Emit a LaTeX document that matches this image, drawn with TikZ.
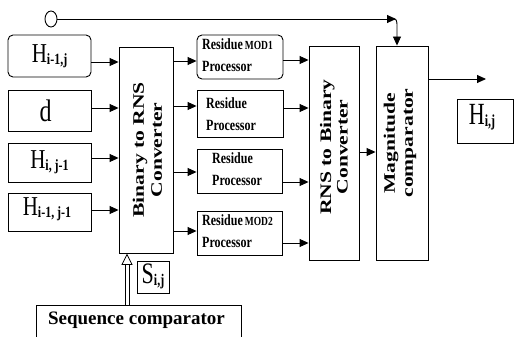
\documentclass[tikz,border=0pt]{standalone}
\usepackage{fontspec}
\setmainfont{Liberation Serif}
\usetikzlibrary{arrows.meta,shapes.geometric}
\newcommand\tall[2][1.3]{\scalebox{1}[#1]{#2}}
\newcommand\wide[2][1.35]{\scalebox{#1}[1]{#2}}
\newcommand\Hlab[1]{\tall{\fontsize{21}{21}\selectfont H\raisebox{-1.5pt}{\fontsize{12}{12}\selectfont\bfseries #1}}}
\begin{document}
\begin{tikzpicture}[x=1pt,y=-1pt,
  box/.style={draw=black, line width=0.9pt, fill=white, inner sep=0pt},
  rbox/.style={box, rounded corners=5pt},
  arr/.style={line width=0.9pt, -{Triangle[length=9pt,width=8pt]}},
  restext/.style={anchor=north west, inner sep=0pt, align=left, font=\bfseries\fontsize{12}{22}\selectfont},
  rottext/.style={rotate=90, inner sep=0pt, align=center, font=\bfseries\fontsize{16}{18}\selectfont}]
\useasboundingbox (0,0) rectangle (515,337);
\clip (0,0) rectangle (515,337);
% input boxes
\node[rbox, minimum width=83pt, minimum height=42pt] (hA) at (49.5,56) {\Hlab{i-1,j}};
\node[box, minimum width=83pt, minimum height=41pt] (hd) at (49.5,110.5) {};
\node[inner sep=0pt] (hdt) at (45.5,111) {\tall{\fontsize{24}{24}\selectfont d}};
\node[box, minimum width=83pt, minimum height=39pt] (hB) at (49.5,162.5) {\Hlab{i, j-1}};
\node[box, minimum width=83pt, minimum height=38pt] (hC) at (49.5,212) {};
\node[inner sep=0pt] (hCt) at (47,209) {\Hlab{i-1, j-1}};
% converters
\node[box, minimum width=54pt, minimum height=206pt] (btr) at (146,150) {};
\node[rottext] (btrt) at (147.5,150) {\wide{Binary to RNS}\\\wide{Converter}};
\node[box, minimum width=50pt, minimum height=214pt] (rtb) at (334,153) {};
\node[rottext, font=\bfseries\fontsize{16}{16.5}\selectfont] (rtbt) at (334,147) {\wide{RNS to Binary}\\\wide{Converter}};
\node[box, minimum width=52pt, minimum height=214pt] (mag) at (402,153) {};
\node[rottext] (magt) at (400,143) {\wide{Magnitude}\\\wide{comparator}};
% residue processors
\node[rbox, minimum width=86pt, minimum height=44pt] (r1) at (240,57) {};
\node[box, minimum width=86pt, minimum height=47pt] (r2) at (240,113.5) {};
\node[box, minimum width=85pt, minimum height=44pt] (r3) at (239.5,171) {};
\node[box, minimum width=85pt, minimum height=44pt] (r4) at (239.5,233) {};
\node[restext] (r1t) at (202,38) {\tall{Residue\,{\fontsize{9.5}{10}\selectfont MOD1}}\\\tall{Processor}};
\node[restext] (r2t) at (206,97) {\tall{Residue}\\\tall{Processor}};
\node[restext] (r3t) at (212,152) {\tall{Residue}\\\tall{Processor}};
\node[restext] (r4t) at (202,214) {\tall{Residue\,{\fontsize{9.5}{10}\selectfont MOD2}}\\\tall{Processor}};
% output
\node[box, minimum width=56pt, minimum height=44pt] (hout) at (485,121) {};
\node[inner sep=0pt] (houtt) at (482,117) {\tall[1.4]{\fontsize{22}{22}\selectfont H\raisebox{-1.5pt}{\fontsize{12}{12}\selectfont\bfseries i,j}}};
% sequence comparator and S
\node[box, minimum width=205pt, minimum height=42pt] (seq) at (138.5,326) {};
\node[inner sep=0pt, font=\bfseries\fontsize{19}{19}\selectfont] (seqt) at (136.5,320) {Sequence comparator};
\node[box, minimum width=32pt, minimum height=32pt] (sbox) at (153,277) {};
\node[inner sep=0pt] (sboxt) at (153,276) {\tall[1.35]{\fontsize{22}{22}\selectfont S\raisebox{-1.5pt}{\fontsize{12}{12}\selectfont\bfseries i,j}}};
% top line
\node[draw, ellipse, line width=0.9pt, minimum width=12pt, minimum height=16pt, inner sep=0pt, fill=white] (circ) at (51,19) {};
\coordinate (tc) at (391,19);
\coordinate (tcend) at (396,19);
\draw[arr] (circ.east) -- (tcend);
\draw[arr] (tc) .. controls (397,19) .. (397,28) -- ([xshift=-5pt]mag.north);
% arrows into binary-to-RNS
\draw[arr] ([yshift=-6pt]hA.east) -- ([yshift=-6pt]hA.east -| btr.west);
\draw[arr] ([yshift=2.5pt]hd.east) -- ([yshift=2.5pt]hd.east -| btr.west);
\draw[arr] ([yshift=4.5pt]hB.east) -- ([yshift=4.5pt]hB.east -| btr.west);
\draw[arr] ([yshift=2pt]hC.east) -- ([yshift=2pt]hC.east -| btr.west);
% to residue processors
\draw[arr] ([yshift=-4pt]r1.west -| btr.east) -- ([yshift=-4pt]r1.west);
\draw[arr] ([yshift=7.5pt]r2.west -| btr.east) -- ([yshift=7.5pt]r2.west);
\draw[arr] ([yshift=-1pt]r3.west -| btr.east) -- ([yshift=-1pt]r3.west);
\draw[arr] ([yshift=2pt]r4.west -| btr.east) -- ([yshift=2pt]r4.west);
% to RNS-to-binary
\draw[arr] ([yshift=-3pt]r1.east) -- ([yshift=-3pt]r1.east -| rtb.west);
\draw[arr] ([yshift=5.5pt]r2.east) -- ([yshift=5.5pt]r2.east -| rtb.west);
\draw[arr] ([yshift=-11pt]r3.east) -- ([yshift=-11pt]r3.east -| rtb.west);
\draw[arr] ([yshift=-10pt]r4.east) -- ([yshift=-10pt]r4.east -| rtb.west);
% to magnitude comparator and output
\draw[arr] ([yshift=1pt]rtb.east) -- ([yshift=1pt]rtb.east -| mag.west);
\coordinate (oc) at (486,79);
\draw[arr] (oc -| mag.east) -- (oc);
% S double arrow (hollow)
\coordinate (sx) at (127,0);
\coordinate (sa) at (seq.north -| sx);
\coordinate (sb) at (btr.south -| sx);
\draw[line width=0.8pt] ([xshift=-2pt]sa) -- ([xshift=-2pt,yshift=-11pt]sb);
\draw[line width=0.8pt] ([xshift=2pt]sa) -- ([xshift=2pt,yshift=-11pt]sb);
\draw[line width=0.8pt, fill=white, line join=miter] ([yshift=-1pt]sb) -- ([xshift=-5pt,yshift=-11pt]sb) -- ([xshift=5pt,yshift=-11pt]sb) -- cycle;
\end{tikzpicture}
\end{document}
